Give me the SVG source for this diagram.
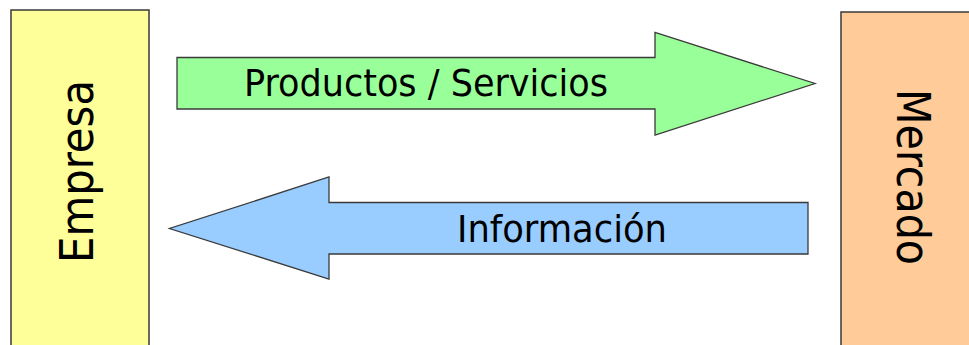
<svg xmlns="http://www.w3.org/2000/svg" width="969" height="345" viewBox="0 0 969 345">
  <style>
    .box { stroke: #3a3a3a; stroke-width: 1.5; }
    .arrow { stroke: #3a3a3a; stroke-width: 1.3; stroke-linejoin: miter; }
    .lbl { font-family: "DejaVu Sans Condensed", "DejaVu Sans", sans-serif; font-stretch: condensed; fill: #000; }
    .h { font-size: 38px; }
    .v { font-size: 46px; }
  </style>
  <rect width="969" height="345" fill="#ffffff"/>
  <g id="empresa">
    <rect class="box" x="11" y="10" width="138" height="345" fill="#FFFF99"/>
    <text class="lbl v" transform="translate(93,171.5) rotate(-90)" text-anchor="middle" textLength="183" lengthAdjust="spacingAndGlyphs">Empresa</text>
  </g>
  <g id="mercado">
    <rect class="box" x="841" y="12" width="140" height="345" fill="#FFCC99"/>
    <text class="lbl v" transform="translate(897,177) rotate(90)" text-anchor="middle" textLength="176" lengthAdjust="spacingAndGlyphs">Mercado</text>
  </g>
  <g id="connectors">
    <g id="productos-servicios">
      <polygon class="arrow" fill="#99FF99" points="177,57.5 655,57.5 655,32.5 815,83.5 655,135 655,109 177,109"/>
      <text class="lbl h" x="244" y="96" textLength="364" lengthAdjust="spacingAndGlyphs">Productos / Servicios</text>
    </g>
    <g id="informacion">
      <polygon class="arrow" fill="#99CCFF" points="808,202.5 329,202.5 329,177 169.5,228.5 329,279 329,254 808,254"/>
      <text class="lbl h" x="457" y="242" textLength="210" lengthAdjust="spacingAndGlyphs">Información</text>
    </g>
  </g>
</svg>
